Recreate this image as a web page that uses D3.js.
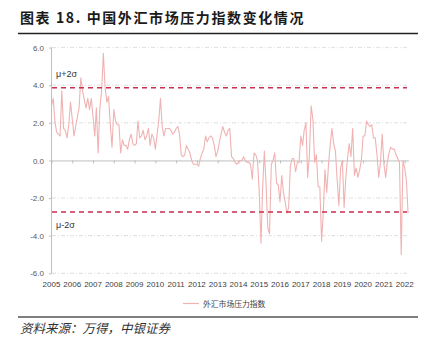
<!DOCTYPE html>
<html>
<head>
<meta charset="utf-8">
<script src="https://cdn.jsdelivr.net/npm/d3@7"></script>
<style>
  html, body { margin: 0; padding: 0; background: #ffffff; }
  svg { display: block; }
</style>
</head>
<body>
<svg id="chart" width="430" height="338"></svg>
<script>
// Monthly FX market pressure index, Jan 2005 onward
const startYear = 2005;
const startMonth = 0;
const pressureIndex = [
  2.9, 3.3, 2.1, 1.5, 1.4, 1.3, 3.7, 1.7, 1.6, 1.2, 1.9, 3.1,
  2.2, 1.3, 1.8, 2.3, 2.8, 4.4, 3.7, 3.2, 2.8, 3.3, 2.7, 3.3,
  2.3, 1.3, 2.8, 0.4, 2.8, 3.7, 5.7, 3.9, 3.1, 3.4, 1.9, 0.7,
  2.7, 2.1, 1.9, 1.9, 0.4, 1.1, 0.8, 0.8, 0.6, 1.1, 1.4, 0.9,
  0.8, 0.9, 2.1, 1.2, 1.3, 1.6, 1.1, 1.3, 1.7, 0.8, 1.4, 1.2,
  0.6, 1.4, 2.1, 3.3, 1.8, 1.3, 1.7, 1.7, 1.7, 1.6, 1.4, 1.5,
  1.7, 1.8, 1.4, 0.3, 0.2, 0.3, 0.8, 0.6, 0.4, 0.0, -0.2, -0.2,
  -0.2, -0.3, 0.1, 0.4, 0.6, 1.3, 1.0, 1.2, 1.3, 1.2, 0.8, 0.2,
  0.5, 1.0, 1.4, 1.8, 1.5, 1.3, 1.6, 1.7, 0.2, 0.1, -0.1, -0.2,
  -0.1, 0.0, 0.0, 0.2, 0.0, -0.1, -0.1, -0.2, -1.0, 0.4, 0.3, 0.0,
  -1.7, -4.4, -1.5, 0.5, -1.3, -3.6, -3.9, -0.2, 0.0, 0.4, -1.2, -1.3,
  -2.2, -0.8, -1.7, -2.2, -2.8, -2.5, -0.3, 0.1, 0.1, -0.6, -0.1, -0.1,
  1.3, 0.8, 1.6, 2.0, -0.9, 0.3, 2.9, 2.2, -0.1, 0.3, -1.4, -1.4,
  -4.3, -2.7, -0.5, -1.7, -0.3, 0.8, 1.7, 0.9, 0.5, -1.0, -2.4, -0.4,
  0.0, -2.5, -1.0, 0.1, 0.9, 0.2, 1.7, -0.8, -0.4, -0.9, -0.5, 0.0,
  1.3, 1.3, 2.1, 1.9, 1.8, 1.9, 1.2, 1.2, 0.3, -0.9, -0.1, 1.4,
  -0.2, -0.9, -0.1, 0.4, 0.7, 0.6, 0.6, 0.3, 0.1, -0.1, -5.0, 0.0,
  -0.4, -1.1, -2.8
];

// Band thresholds: mean plus / minus two standard deviations
const upperBand = 3.86;
const lowerBand = -2.74;
const bandLabels = ["μ+2σ", "μ-2σ"];

const yTicks = [6, 4, 2, 0, -2, -4, -6];
const xTickYears = d3.range(2005, 2023);

const titleText = "图表 18. 中国外汇市场压力指数变化情况";
const seriesName = "外汇市场压力指数";
const sourceText = "资料来源：万得，中银证券";

const data = pressureIndex.map((v, i) => ({
  date: new Date(startYear, startMonth + i, 1),
  value: v
}));

const svg = d3.select("#chart");
const latin = "'Liberation Sans Narrow', 'Liberation Sans', Arial, sans-serif";
const cjk = "'Noto Sans CJK SC', 'Noto Sans', sans-serif";

const plotLeft = 52, plotRight = 409, plotTop = 47.6, plotBottom = 273.3;

const x = d3.scaleTime()
  .domain([new Date(2005, 0, 1), new Date(2022, 0, 1)])
  .range([51.5, 404.7]);
const y = d3.scaleLinear().domain([-6, 6]).range([plotBottom, plotTop]);

// Title and rule under it
svg.append("text")
  .attr("x", 20).attr("y", 23)
  .attr("font-family", cjk).attr("font-size", 14).attr("font-weight", "bold")
  .attr("letter-spacing", 1.6)
  .attr("fill", "#1a1a1a")
  .text(titleText);
svg.append("line")
  .attr("x1", 18).attr("x2", 418).attr("y1", 33.5).attr("y2", 33.5)
  .attr("stroke", "#222").attr("stroke-width", 1.3);

// Horizontal grid (dash-dot)
svg.append("g")
  .selectAll("line")
  .data(yTicks.filter(d => d !== 0))
  .join("line")
  .attr("x1", plotLeft).attr("x2", plotRight)
  .attr("y1", d => y(d)).attr("y2", d => y(d))
  .attr("stroke", "#d6d6d6").attr("stroke-width", 0.8)
  .attr("stroke-dasharray", "4,2,1,2");

// Y axis
const yAxis = svg.append("g")
  .attr("transform", `translate(${plotLeft},0)`)
  .call(d3.axisLeft(y).tickValues(yTicks).tickSize(3).tickPadding(5)
    .tickFormat(d => d.toFixed(1)));
yAxis.select(".domain").attr("stroke", "#bfbfbf").attr("d", `M-0.5,${plotTop}V${plotBottom}`);
yAxis.selectAll(".tick line").attr("stroke", "#bfbfbf");
yAxis.selectAll("text")
  .attr("font-family", latin).attr("font-size", 8).attr("fill", "#595959");

// Zero line with year ticks
const xAxis = svg.append("g")
  .attr("transform", `translate(0,${y(0)})`)
  .call(d3.axisBottom(x)
    .tickValues(xTickYears.map(yr => new Date(yr, 0, 1)))
    .tickSize(3).tickFormat(""));
xAxis.select(".domain").attr("stroke", "#bfbfbf").attr("d", `M${plotLeft},0.5H${plotRight}`);
xAxis.selectAll(".tick line").attr("stroke", "#bfbfbf");

// Year labels along the bottom
svg.append("g")
  .selectAll("text")
  .data(xTickYears)
  .join("text")
  .attr("x", d => x(new Date(d, 0, 1)))
  .attr("y", 287)
  .attr("text-anchor", "middle")
  .attr("font-family", latin).attr("font-size", 8).attr("fill", "#404040")
  .text(d => d);

// Index line
svg.append("path")
  .datum(data)
  .attr("fill", "none")
  .attr("stroke", "#f0b2b2")
  .attr("stroke-width", 1.1)
  .attr("stroke-linejoin", "round")
  .attr("d", d3.line().x(d => x(d.date)).y(d => y(d.value)));

// +/- 2 sigma bands
const bands = [upperBand, lowerBand];
svg.append("g")
  .selectAll("line")
  .data(bands)
  .join("line")
  .attr("x1", plotLeft).attr("x2", 407)
  .attr("y1", d => y(d)).attr("y2", d => y(d))
  .attr("stroke", "#cc2e4e").attr("stroke-width", 1.5)
  .attr("stroke-dasharray", "5,4");

svg.append("g")
  .selectAll("text")
  .data(bands)
  .join("text")
  .attr("x", 56)
  .attr("y", (d, i) => i === 0 ? y(d) - 11 : y(d) + 16)
  .attr("font-family", "'Liberation Sans', Arial, sans-serif")
  .attr("font-size", 9).attr("fill", "#333")
  .text((d, i) => bandLabels[i]);

// Legend
svg.append("line")
  .attr("x1", 183).attr("x2", 199).attr("y1", 303.5).attr("y2", 303.5)
  .attr("stroke", "#f0b2b2").attr("stroke-width", 1.2);
svg.append("text")
  .attr("x", 203).attr("y", 306.5)
  .attr("font-family", cjk).attr("font-size", 7.8).attr("fill", "#404040")
  .text(seriesName);

// Footer rule and source
svg.append("line")
  .attr("x1", 18).attr("x2", 418).attr("y1", 317).attr("y2", 317)
  .attr("stroke", "#7f7f7f").attr("stroke-width", 2.2);
svg.append("text")
  .attr("x", 20).attr("y", 333)
  .attr("font-family", cjk).attr("font-size", 12.5).attr("font-style", "italic")
  .attr("fill", "#333")
  .text(sourceText);
</script>
</body>
</html>
